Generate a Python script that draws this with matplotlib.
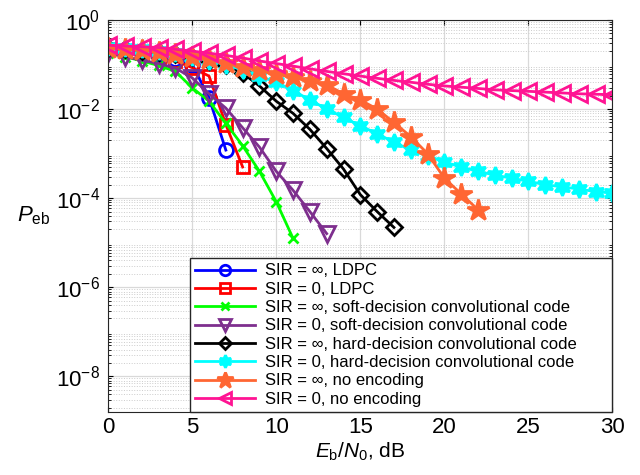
import matplotlib
matplotlib.use('Agg')
import numpy as np
import matplotlib.pyplot as plt
from matplotlib.ticker import LogLocator, NullFormatter, MultipleLocator

plt.rcParams['font.family'] = ['Liberation Sans', 'DejaVu Sans']
plt.rcParams['mathtext.fontset'] = 'custom'
plt.rcParams['mathtext.rm'] = 'Liberation Sans'
plt.rcParams['mathtext.it'] = 'Liberation Sans:italic'

# Eb/N0 in dB, one value per point
ldpc_inf_x = list(range(0, 8))
ldpc_inf_y = [0.22, 0.2, 0.18, 0.16, 0.13, 0.1, 0.018, 0.0012]

ldpc_0_x = list(range(0, 9))
ldpc_0_y = [0.22, 0.2, 0.18, 0.15, 0.12, 0.085, 0.055, 0.0045, 5e-4]

soft_inf_x = list(range(0, 12))
soft_inf_y = [0.18, 0.15, 0.12, 0.095, 0.07, 0.03, 0.015, 4.8e-3, 1.5e-3, 4e-4, 8.3e-5, 1.25e-5]

soft_0_x = list(range(0, 14))
soft_0_y = [0.18, 0.15, 0.125, 0.105, 0.083, 0.05, 0.022, 0.0105, 0.0038, 0.0014, 4e-4, 1.5e-4, 5e-5, 1.6e-5]

hard_inf_x = list(range(0, 18))
hard_inf_y = [0.24, 0.22, 0.2, 0.19, 0.17, 0.15, 0.12, 0.1, 0.064, 0.033, 0.015, 0.008, 0.0035,
              0.0013, 4.5e-4, 1.2e-4, 5e-5, 2.2e-5]

hard_0_x = list(range(0, 31))
hard_0_y = [0.25, 0.24, 0.22, 0.2, 0.18, 0.15, 0.12, 0.1, 0.075, 0.055, 0.04, 0.026, 0.016, 0.01,
            0.0065, 0.0042, 0.0028, 0.0018, 0.0012, 9e-4, 6.5e-4, 5e-4, 4e-4, 3.3e-4, 2.8e-4,
            2.4e-4, 2e-4, 1.8e-4, 1.6e-4, 1.4e-4, 1.3e-4]

none_inf_x = list(range(0, 23))
none_inf_y = [0.24, 0.22, 0.21, 0.19, 0.17, 0.15, 0.13, 0.11, 0.09, 0.075, 0.06, 0.052, 0.043,
              0.035, 0.022, 0.016, 0.01, 5e-3, 2.4e-3, 1e-3, 2.8e-4, 1.25e-4, 5.5e-5]

none_0_x = list(range(0, 31))
none_0_y = [0.27, 0.26, 0.25, 0.24, 0.22, 0.2, 0.18, 0.16, 0.14, 0.12, 0.105, 0.092, 0.08, 0.07,
            0.062, 0.055, 0.049, 0.044, 0.04, 0.036, 0.033, 0.031, 0.029, 0.027, 0.026, 0.025,
            0.024, 0.023, 0.022, 0.0215, 0.021]

INF = '\u221e'
SERIES = [
  (ldpc_inf_x, ldpc_inf_y, 'SIR = %s, LDPC' % INF, '#0000ff', 'o', 'none'),
  (ldpc_0_x, ldpc_0_y, 'SIR = 0, LDPC', '#ff0000', 's', 'none'),
  (soft_inf_x, soft_inf_y, 'SIR = %s, soft-decision convolutional code' % INF, '#00ff00', 'x', 'none'),
  (soft_0_x, soft_0_y, 'SIR = 0, soft-decision convolutional code', '#7e2f8e', 'v', 'none'),
  (hard_inf_x, hard_inf_y, 'SIR = %s, hard-decision convolutional code' % INF, '#000000', 'D', 'none'),
  (hard_0_x, hard_0_y, 'SIR = 0, hard-decision convolutional code', '#00ffff', 'h', 'fill'),
  (none_inf_x, none_inf_y, 'SIR = %s, no encoding' % INF, '#ff6633', '*', 'fill'),
  (none_0_x, none_0_y, 'SIR = 0, no encoding', '#ff1493', '<', 'none'),
]

fig = plt.figure(figsize=(6.4, 4.75), dpi=100)
ax = fig.add_axes([0.169, 0.133, 0.788, 0.825])

for xs, ys, label, color, marker, face in SERIES:
  if marker == 'h':
    # six-pointed star like MATLAB 'hexagram'
    mk = (6, 1, 0)
    ms = 12
  elif marker == '*':
    mk = '*'
    ms = 16
  else:
    mk = marker
    ms = {'o': 10, 's': 9, 'x': 7, 'v': 11, 'D': 8, '<': 11}[marker]
  ax.plot(xs, ys, color=color, lw=2, marker=mk, ms=ms, mew=2,
          mfc=(color if face == 'fill' else 'none'), mec=color, label=label)

ax.set_yscale('log')
ax.set_xlim(0, 30)
ax.set_ylim(1.6e-9, 1)
ax.xaxis.set_major_locator(MultipleLocator(5))
ax.set_yticks([1e0, 1e-2, 1e-4, 1e-6, 1e-8])
ax.yaxis.set_minor_locator(LogLocator(base=10, subs=np.arange(2, 10), numticks=20))
ax.yaxis.set_minor_formatter(NullFormatter())
ax.grid(True, which='major', color='#d9d9d9', lw=0.9)
ax.grid(True, which='minor', axis='y', color='#cccccc', lw=0.7, ls=':')
ax.tick_params(which='both', direction='in', top=True, right=True, labelsize=16)
ax.tick_params(which='minor', length=2)
ax.tick_params(axis='y', pad=6)
for sp in ax.spines.values():
  sp.set_color('#262626')

ax.set_xlabel(r'$E_{\rm b}/N_0$, dB', fontsize=15, labelpad=2)
ax.set_ylabel(r'$P_{\rm eb}$', fontsize=16, rotation=0, labelpad=16, va='center')

leg = ax.legend(loc='lower left', bbox_to_anchor=(0.163, 0.0, 0.837, 0.4), mode='expand',
                borderaxespad=0.0, fontsize=12, handlelength=3.6, labelspacing=0.2,
                fancybox=False, framealpha=1, edgecolor='#262626', handletextpad=0.6,
                borderpad=0.3, markerscale=0.75)
leg.get_frame().set_linewidth(1)

fig.savefig('out.png', dpi=100)
